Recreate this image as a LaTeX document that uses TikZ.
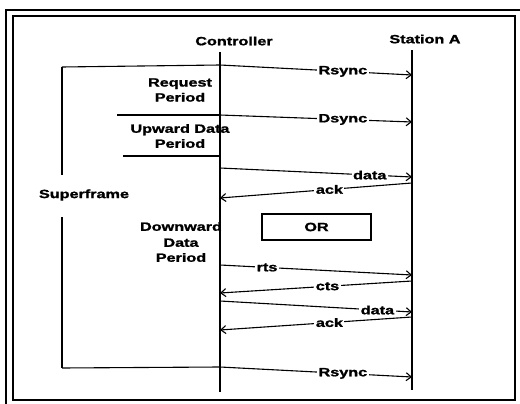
\documentclass[tikz,border=0pt]{standalone}
\usepackage{fontspec}
\usepackage{graphicx}
\setmainfont{Liberation Sans}[BoldFeatures={FakeBold=1.3}]
\usetikzlibrary{arrows.meta}
\newcommand\wt[1]{\scalebox{1.35}[1]{#1}}
\begin{document}
\begin{tikzpicture}[x=1pt,y=-1pt,
  lbl/.style={font=\fontsize{12}{15}\selectfont\bfseries, inner sep=0pt, align=center},
  onl/.style={font=\fontsize{12}{15}\selectfont\bfseries, fill=white, inner xsep=1.5pt, inner ysep=1pt},
  life/.style={line width=1.3pt},
  msg/.style={line width=1.1pt, -{Straight Barb[length=5pt,width=8pt,line width=1.1pt]}},
  brk/.style={line width=1.1pt},
  frame/.style={line width=1.4pt}]
\useasboundingbox (0,0) rectangle (520,404);
% frames
\draw[frame] (6,10) rectangle (530,412);
\draw[frame] (13,16) rectangle (515,400);
% labels
\node[lbl] (ctl) at (234,41) {\wt{Controller}};
\node[lbl] (sta) at (425,39) {\wt{Station A}};
\node[lbl] (req) at (180,90) {\wt{Request}\\\wt{Period}};
\node[lbl] (up) at (180,136) {\wt{Upward Data}\\\wt{Period}};
\node[lbl] (down) at (181,242) {\wt{Downward}\\[1pt]\wt{Data}\\\wt{Period}};
\node[lbl] (sf) at (84,195) {\wt{Superframe}};
\node[draw, line width=1.1pt, minimum width=109pt, minimum height=26pt, inner sep=0pt,
      font=\fontsize{12}{15}\selectfont\bfseries] (or) at (316.5,227) {\wt{OR}};
% lifelines
\coordinate (c0) at (220,52); \coordinate (c1) at (220,392);
\coordinate (s0) at (412,50); \coordinate (s1) at (412,390);
\draw[life] (c0) -- (c1);
\draw[life] (s0) -- (s1);
% superframe bracket
\coordinate (sfTop) at (62,67);
\coordinate (sfBot) at (62,368);
\coordinate (sfA) at (62,175);
\coordinate (sfB) at (62,217);
\draw[brk] (sfTop) -- (sfA);
\draw[brk] (sfB) -- (sfBot);
% message endpoints
\coordinate (r1c) at (220,65);  \coordinate (r1s) at (412,75);
\coordinate (d1l) at (117,115); \coordinate (d1c) at (220,115); \coordinate (d1s) at (412,122);
\coordinate (u1l) at (123,156); \coordinate (u1c) at (220,156);
\coordinate (da1c) at (220,168); \coordinate (da1s) at (412,177);
\coordinate (ak1s) at (412,183); \coordinate (ak1c) at (220,198);
\coordinate (rtc) at (220,265); \coordinate (rts) at (412,275);
\coordinate (cts) at (412,281); \coordinate (ctc) at (220,293);
\coordinate (da2c) at (220,301); \coordinate (da2s) at (412,312);
\coordinate (ak2s) at (412,317); \coordinate (ak2c) at (220,330);
\coordinate (r2c) at (220,367); \coordinate (r2s) at (412,377);
% bracket/period lines
\draw[brk] (sfTop) -- (r1c);
\draw[brk] (d1l) -- (d1c);
\draw[brk] (u1l) -- (u1c);
\draw[brk] (sfBot) -- (r2c);
% messages
\draw[msg] (r1c) -- node[onl, pos=0.64] {\wt{Rsync}} (r1s);
\draw[msg] (d1c) -- node[onl, pos=0.64] {\wt{Dsync}} (d1s);
\draw[msg] (da1c) -- node[onl, pos=0.78] {\wt{data}} (da1s);
\draw[msg] (ak1s) -- node[onl, pos=0.43] {\wt{ack}} (ak1c);
\draw[msg] (rtc) -- node[onl, pos=0.245] {\wt{rts}} (rts);
\draw[msg] (cts) -- node[onl, pos=0.44] {\wt{cts}} (ctc);
\draw[msg] (da2c) -- node[onl, pos=0.82] {\wt{data}} (da2s);
\draw[msg] (ak2s) -- node[onl, pos=0.43] {\wt{ack}} (ak2c);
\draw[msg] (r2c) -- node[onl, pos=0.64] {\wt{Rsync}} (r2s);
\end{tikzpicture}
\end{document}
